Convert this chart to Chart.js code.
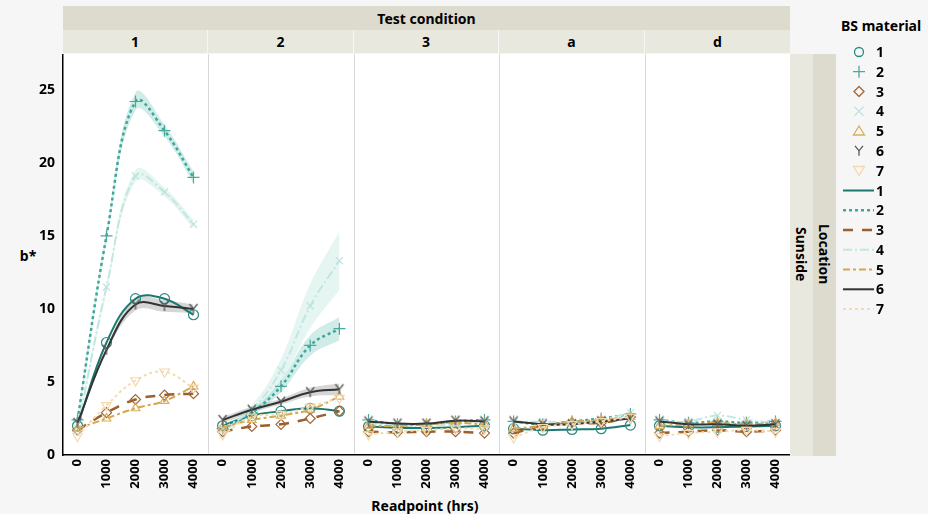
<!DOCTYPE html>
<html><head><meta charset="utf-8">
<script src="https://cdn.jsdelivr.net/npm/chart.js@4.4.1/dist/chart.umd.min.js"></script>
<style>
html,body{margin:0;padding:0;background:#f6f6f6;}
body{width:928px;height:514px;position:relative;overflow:hidden;font-family:"Noto Sans","Open Sans",sans-serif;font-weight:bold;color:#000;}
.abs{position:absolute;}
.hdr{background:#dddbcd;}
.sub{background:#e9e8df;}
.lbl{display:flex;align-items:center;justify-content:center;font-size:14px;}
canvas{position:absolute;}
</style></head>
<body>
<script>
// ---------------- data ----------------
const conditions = ["1", "2", "3", "a", "d"];
const materials = ["1", "2", "3", "4", "5", "6", "7"];
const readpoints = [0, 1000, 2000, 3000, 4000];
const yTickValues = [0, 2.5, 5, 7.5, 10, 12.5, 15, 17.5, 20, 22.5, 25];

// b* values, one row per BS material (1..7), per test condition
const cond1Values = [
  [2.0, 7.7, 10.7, 10.7, 9.6],
  [2.4, 15.0, 24.2, 22.2, 19.0],
  [1.7, 2.9, 3.8, 4.1, 4.2],
  [1.8, 11.5, 19.1, 18.0, 15.8],
  [1.8, 2.5, 3.2, 3.7, 4.7],
  [2.2, 7.2, 10.3, 10.2, 10.0],
  [1.3, 3.4, 5.1, 5.7, 4.6]
];
const cond2Values = [
  [2.0, 2.7, 3.0, 3.2, 3.0],
  [1.8, 2.9, 4.7, 7.5, 8.65],
  [1.6, 1.95, 2.1, 2.5, 3.0],
  [1.8, 3.1, 5.8, 10.2, 13.3],
  [1.9, 2.4, 2.7, 3.1, 4.0],
  [2.4, 3.1, 3.65, 4.3, 4.5],
  [1.4, 2.6, 2.8, 3.3, 3.9]
];
const cond3Values = [
  [1.95, 1.85, 1.85, 1.9, 2.0],
  [2.4, 2.1, 2.1, 2.3, 2.4],
  [1.6, 1.55, 1.6, 1.6, 1.5],
  [2.2, 2.0, 2.0, 2.1, 2.4],
  [2.0, 2.0, 2.1, 2.2, 2.1],
  [2.3, 2.15, 2.15, 2.35, 2.3],
  [1.4, 1.6, 1.7, 1.8, 1.8]
];
const condAValues = [
  [1.8, 1.7, 1.75, 1.8, 2.05],
  [2.3, 2.1, 2.3, 2.5, 2.8],
  [1.5, 2.0, 2.2, 2.2, 2.6],
  [2.2, 2.3, 2.2, 2.4, 2.9],
  [1.8, 2.0, 2.3, 2.4, 2.6],
  [2.3, 2.1, 2.1, 2.3, 2.5],
  [1.2, 1.9, 2.1, 2.3, 2.6]
];
const condDValues = [
  [2.0, 1.9, 1.9, 1.95, 2.0],
  [2.4, 2.2, 2.3, 2.2, 2.3],
  [1.5, 1.6, 1.7, 1.6, 1.7],
  [2.3, 2.3, 2.7, 2.4, 2.2],
  [2.0, 2.1, 2.2, 2.1, 2.2],
  [2.3, 2.1, 2.1, 2.0, 2.1],
  [1.3, 1.5, 1.6, 1.7, 1.6]
];
// half-widths of the shaded fit bands (null = no visible band)
const cond1Bands = [null, [0.3, 0.3, 0.6, 0.4, 0.4], null, [0.2, 0.3, 0.4, 0.3, 0.3], null, [0.2, 0.2, 0.4, 0.4, 0.3], null];
const cond2Bands = [null, [0.2, 0.2, 0.4, 0.7, 0.8], null, [0.2, 0.3, 0.8, 1.5, 2.0], null, [0.2, 0.2, 0.2, 0.3, 0.4], null];
const cond3Bands = [null, null, null, null, null, null, null];
const condABands = [null, null, null, null, null, null, null];
const condDBands = [null, null, null, null, null, null, null];

// ---------------- styles ----------------
const lineColors = ["#1b7870", "#3ea69a", "#9c5e2a", "#c2e7e1", "#d5a651", "#333333", "#f4dcb0"];
const markerColors = ["#2a8a82", "#4aa89d", "#a0673a", "#bfe3dd", "#d9ad5c", "#555555", "#f2d9ad"];
const bandColors = [null, "rgba(120,200,190,0.35)", null, "rgba(180,225,218,0.35)", null, "rgba(120,120,120,0.3)", null];
const dashes = [[], [3, 3], [10, 9], [9, 3, 2, 3], [7, 3, 3, 3], [], [3, 3]];
const lineWidths = [2, 2.5, 2.5, 2, 2, 2, 2];

function makeY(color) {
  const c = document.createElement('canvas'); c.width = 12; c.height = 12;
  const g = c.getContext('2d'); g.strokeStyle = color; g.lineWidth = 1.3;
  g.beginPath(); g.moveTo(2, 1); g.lineTo(6, 6); g.lineTo(10, 1); g.moveTo(6, 6); g.lineTo(6, 11); g.stroke();
  return c;
}
const pointStyles = ['circle', 'cross', 'rectRot', 'crossRot', 'triangle', makeY(markerColors[5]), 'triangle'];
const pointRotations = [0, 0, 0, 0, 0, 0, 180];
const pointRadii = [5, 6, 5, 5, 5, 6, 5.5];

// ---------------- layout (page) ----------------
const panelEdges = [63, 208, 354, 499, 645, 790];
const plotTop = 54, plotBottom = 455;

function div(cls, x, y, w, h, html, extra) {
  const d = document.createElement('div');
  d.className = 'abs ' + (cls || '');
  d.style.left = x + 'px'; d.style.top = y + 'px'; d.style.width = w + 'px'; d.style.height = h + 'px';
  if (html !== undefined) d.innerHTML = html;
  if (extra) Object.assign(d.style, extra);
  document.body.appendChild(d);
  return d;
}
// headers
div('hdr lbl', 63, 6, 727, 24, 'Test condition');
for (let i = 0; i < 5; i++) {
  div('sub lbl', panelEdges[i], 30, panelEdges[i + 1] - panelEdges[i] - (i < 4 ? 1 : 0), 23, conditions[i]);
}
// plot background and separators
div('', 63, plotTop, 727, plotBottom - plotTop, undefined, {background: '#ffffff'});
for (let i = 1; i < 5; i++) div('', panelEdges[i], plotTop, 1, plotBottom - plotTop, undefined, {background: '#d9d9d9'});
// right strips
div('sub', 790, plotTop, 23, plotBottom - plotTop + 1);
div('hdr', 813, plotTop, 23, plotBottom - plotTop + 1);
div('lbl', 790, plotTop, 23, plotBottom - plotTop, '<span style="writing-mode:vertical-rl">Sunside</span>');
div('lbl', 813, plotTop, 23, plotBottom - plotTop, '<span style="writing-mode:vertical-rl">Location</span>');
// axis titles
div('lbl', 10, 245, 36, 20, 'b*');
div('lbl', 300, 495, 250, 20, 'Readpoint (hrs)');

// ---------------- charts ----------------
const allValues = [cond1Values, cond2Values, cond3Values, condAValues, condDValues];
const allBands = [cond1Bands, cond2Bands, cond3Bands, condABands, condDBands];
const canvasH = 460;
const xAxisH = canvasH - (plotBottom - plotTop);

for (let p = 0; p < 5; p++) {
  const first = p === 0;
  const left = first ? 0 : panelEdges[p];
  const width = panelEdges[p + 1] - left;
  const cv = document.createElement('canvas');
  cv.width = width; cv.height = canvasH;
  cv.style.left = left + 'px'; cv.style.top = plotTop + 'px';
  cv.style.width = width + 'px'; cv.style.height = canvasH + 'px';
  document.body.appendChild(cv);

  const datasets = [];
  allValues[p].forEach((vals, s) => {
    const band = allBands[p][s];
    if (band) {
      datasets.push({
        data: readpoints.map((x, i) => ({x, y: vals[i] + band[i]})),
        borderWidth: 0, pointRadius: 0, fill: '+1', backgroundColor: bandColors[s], tension: 0.4, order: 20
      });
      datasets.push({
        data: readpoints.map((x, i) => ({x, y: vals[i] - band[i]})),
        borderWidth: 0, pointRadius: 0, fill: false, tension: 0.4, order: 20
      });
    }
  });
  allValues[p].forEach((vals, s) => {
    datasets.push({
      label: materials[s],
      data: readpoints.map((x, i) => ({x, y: vals[i]})),
      borderColor: lineColors[s], borderWidth: lineWidths[s], borderDash: dashes[s],
      tension: 0.4, fill: false,
      pointStyle: pointStyles[s], pointRotation: pointRotations[s], pointRadius: pointRadii[s],
      pointBorderColor: markerColors[s], pointBackgroundColor: 'rgba(0,0,0,0)', pointBorderWidth: 1.2,
      order: 7 - s
    });
  });

  new Chart(cv, {
    type: 'line',
    data: {datasets},
    options: {
      responsive: false, animation: false, devicePixelRatio: 1,
      layout: {padding: 0, autoPadding: false},
      plugins: {legend: {display: false}, tooltip: {enabled: false}},
      scales: {
        x: {
          type: 'linear', min: -500, max: 4500,
          afterBuildTicks: sc => { sc.ticks = readpoints.map(v => ({value: v})); },
          afterFit: sc => { sc.height = xAxisH; sc.paddingLeft = 0; sc.paddingRight = 0; },
          grid: {display: false, drawTicks: false},
          border: {display: true, color: '#000', width: 1.5},
          ticks: {
            minRotation: 90, maxRotation: 90, autoSkip: false, padding: 4,
            color: '#000', font: {family: '"Noto Sans"', size: 13, weight: 'bold'},
            callback: v => String(v)
          }
        },
        y: {
          display: first, min: 0, max: 27.45,
          afterBuildTicks: sc => { sc.ticks = yTickValues.map(v => ({value: v})); },
          afterFit: sc => { sc.width = first ? 63 : 0; sc.paddingTop = 0; sc.paddingBottom = 0; },
          grid: {display: false, drawTicks: true, drawOnChartArea: false, tickLength: 5, color: '#000'},
          border: {display: true, color: '#000', width: 1.5},
          ticks: {
            padding: 3, color: '#000', font: {family: '"Noto Sans"', size: 14, weight: 'bold'},
            callback: v => (v % 5 === 0 ? String(v) : '')
          }
        }
      }
    }
  });
}

// ---------------- legend ----------------
div('', 841, 16, 90, 20, 'BS material', {fontSize: '14px'});
const ns = 'http://www.w3.org/2000/svg';
const svg = document.createElementNS(ns, 'svg');
svg.setAttribute('width', '928'); svg.setAttribute('height', '514');
svg.style.position = 'absolute'; svg.style.left = '0'; svg.style.top = '0';
document.body.appendChild(svg);
function el(tag, attrs) {
  const e = document.createElementNS(ns, tag);
  for (const k in attrs) e.setAttribute(k, attrs[k]);
  svg.appendChild(e); return e;
}
const markRows = [52, 71.7, 91.5, 111.3, 131, 150.8, 170.5];
const lineRows = [190.5, 210.3, 230, 249.8, 269.5, 289.3, 309];
materials.forEach((m, s) => {
  const cy = markRows[s], cx = 859, c = markerColors[s];
  const st = {fill: 'none', stroke: c, 'stroke-width': 1.3};
  if (s === 0) el('circle', Object.assign({cx, cy, r: 4.5}, st));
  if (s === 1) el('path', Object.assign({d: `M${cx-6} ${cy}H${cx+6}M${cx} ${cy-6}V${cy+6}`}, st));
  if (s === 2) el('path', Object.assign({d: `M${cx} ${cy-5}L${cx+5} ${cy}L${cx} ${cy+5}L${cx-5} ${cy}Z`}, st));
  if (s === 3) el('path', Object.assign({d: `M${cx-4.5} ${cy-4.5}L${cx+4.5} ${cy+4.5}M${cx+4.5} ${cy-4.5}L${cx-4.5} ${cy+4.5}`}, st));
  if (s === 4) el('path', Object.assign({d: `M${cx} ${cy-5}L${cx+5.5} ${cy+4}L${cx-5.5} ${cy+4}Z`}, st));
  if (s === 5) el('path', Object.assign({d: `M${cx-4} ${cy-5}L${cx} ${cy}L${cx+4} ${cy-5}M${cx} ${cy}V${cy+5}`}, st));
  if (s === 6) el('path', Object.assign({d: `M${cx} ${cy+5}L${cx+5.5} ${cy-4}L${cx-5.5} ${cy-4}Z`}, st));
  const t = el('text', {x: 876, y: cy + 5, 'font-size': 14, 'font-weight': 'bold', 'font-family': 'Noto Sans'});
  t.textContent = m;
  const ly = lineRows[s];
  el('line', {x1: 843, y1: ly, x2: 874, y2: ly, stroke: lineColors[s], 'stroke-width': lineWidths[s],
    'stroke-dasharray': dashes[s].length ? dashes[s].join(' ') : 'none'});
  const t2 = el('text', {x: 876, y: ly + 5, 'font-size': 14, 'font-weight': 'bold', 'font-family': 'Noto Sans'});
  t2.textContent = m;
});
</script>
</body></html>
